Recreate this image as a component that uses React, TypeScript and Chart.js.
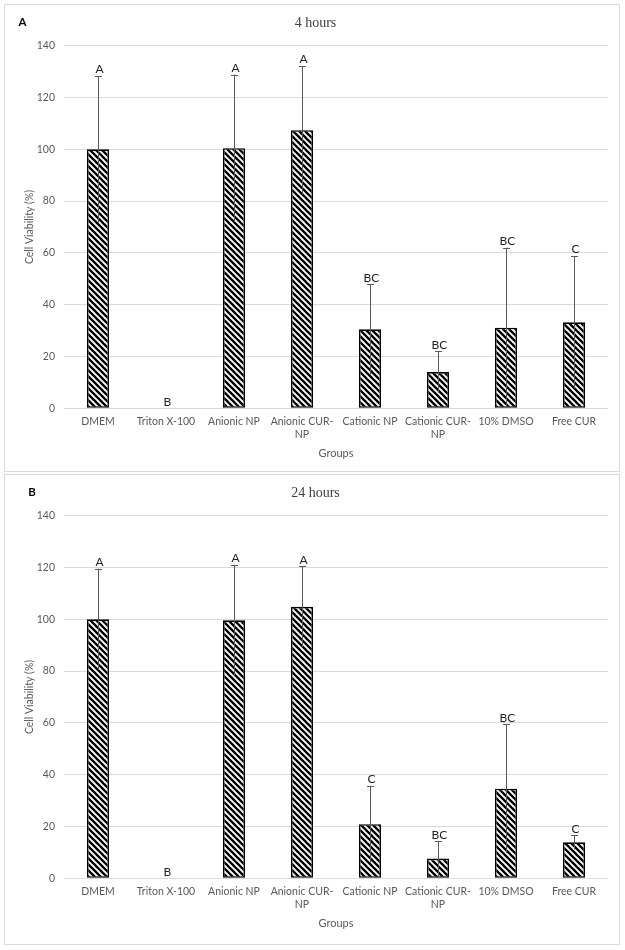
import React, { useEffect, useRef } from 'react';
import { Chart, registerables } from 'chart.js';

Chart.register(...registerables);

// ---------- data ----------
const groupLabels: (string | string[])[] = [
  'DMEM',
  'Triton X-100',
  'Anionic NP',
  ['Anionic CUR-', 'NP'],
  'Cationic NP',
  ['Cationic CUR-', 'NP'],
  '10% DMSO',
  'Free CUR',
];

const yMin = 0;
const yMax = 140;
const yStep = 20;

const viability4h = [100, 0, 100.4, 107.4, 30.5, 14.0, 31.1, 33.2];
const sd4h = [28.3, 0, 28.4, 24.8, 17.4, 8.0, 30.9, 25.6];
const letters4h = ['A', 'B', 'A', 'A', 'BC', 'BC', 'BC', 'C'];

const viability24h = [100, 0, 99.6, 104.8, 20.9, 7.6, 34.6, 13.9];
const sd24h = [19.6, 0, 21.4, 15.6, 14.8, 6.7, 24.9, 2.7];
const letters24h = ['A', 'B', 'A', 'A', 'C', 'BC', 'BC', 'C'];

// ---------- styles ----------
const FONT = "Lato, 'Liberation Sans', sans-serif";
const SERIF = "'Liberation Serif', 'DejaVu Serif', serif";
const GRID = '#d9d9d9';
const AXIS_TEXT = '#595959';

function createHatch(): CanvasPattern | string {
  const s = 6;
  const c = document.createElement('canvas');
  c.width = s;
  c.height = s;
  const g = c.getContext('2d');
  if (!g) return '#ffffff';
  g.fillStyle = '#ffffff';
  g.fillRect(0, 0, s, s);
  g.strokeStyle = '#000000';
  g.lineWidth = 2.3;
  g.beginPath();
  for (const x0 of [-s, 0, s]) {
    g.moveTo(x0 - 1, -1);
    g.lineTo(x0 + s + 1, s + 1);
  }
  g.stroke();
  return g.createPattern(c, 'repeat') ?? '#ffffff';
}

const annotatePlugin = {
  id: 'errAndLetters',
  afterDatasetsDraw(chart: any, _args: any, opts: any) {
    const { ctx } = chart;
    const meta = chart.getDatasetMeta(0);
    const yScale = chart.scales.y;
    const vals = chart.data.datasets[0].data as number[];
    const errs: number[] = opts.errors || [];
    const letters: string[] = opts.letters || [];
    ctx.save();
    meta.data.forEach((bar: any, i: number) => {
      const v = vals[i];
      const e = errs[i] || 0;
      const px = Math.round(bar.x) + 0.5;
      const yTop = yScale.getPixelForValue(v + e);
      const yBot = yScale.getPixelForValue(Math.max(0, v - e));
      if (e > 0) {
        ctx.strokeStyle = '#595959';
        ctx.lineWidth = 1;
        ctx.beginPath();
        ctx.moveTo(px, yTop);
        ctx.lineTo(px, yBot);
        ctx.moveTo(px - 3.5, Math.round(yTop) + 0.5);
        ctx.lineTo(px + 3.5, Math.round(yTop) + 0.5);
        ctx.stroke();
      }
      ctx.fillStyle = '#1f1f1f';
      ctx.font = `12px ${FONT}`;
      ctx.textAlign = 'center';
      ctx.textBaseline = 'middle';
      ctx.fillText(letters[i] ?? '', bar.x + 1.5, yTop - 6.5);
    });
    ctx.restore();
  },
  afterDraw(chart: any, _args: any, opts: any) {
    const { ctx } = chart;
    ctx.save();
    ctx.fillStyle = '#000000';
    ctx.font = `bold 11.5px ${FONT}`;
    ctx.textAlign = 'center';
    ctx.textBaseline = 'middle';
    ctx.fillText(opts.panelLabel, opts.panelX, opts.panelY);
    ctx.restore();
  },
};

type PanelProps = {
  top: number;
  title: string;
  panelLabel: string;
  panelX: number;
  values: number[];
  errors: number[];
  letters: string[];
};

function Panel({ top, title, panelLabel, panelX, values, errors, letters }: PanelProps) {
  const ref = useRef<HTMLCanvasElement | null>(null);

  useEffect(() => {
    if (!ref.current) return;
    const hatch = createHatch();
    const chart = new Chart(ref.current, {
      type: 'bar',
      data: {
        labels: groupLabels,
        datasets: [
          {
            data: values,
            backgroundColor: hatch as any,
            borderColor: '#000000',
            borderWidth: 1.6,
            borderSkipped: false,
            barPercentage: 0.9,
            categoryPercentage: 0.36,
          },
        ],
      },
      options: {
        responsive: false,
        animation: false,
        devicePixelRatio: 1,
        events: [],
        layout: { padding: { left: 23, right: 17, top: 0, bottom: 8 } },
        plugins: {
          legend: { display: false },
          tooltip: { enabled: false },
          title: {
            display: true,
            text: title,
            color: '#404040',
            font: { family: SERIF, size: 14, weight: 'normal' },
            padding: { top: 14.6, bottom: 14.3 },
          },
          errAndLetters: { errors, letters, panelLabel, panelX, panelY: 22.5 },
        } as any,
        scales: {
          x: {
            grid: { display: false, drawTicks: false },
            border: { display: false },
            ticks: {
              color: AXIS_TEXT,
              font: { family: FONT, size: 10.5 },
              padding: 7.4,
              autoSkip: false,
              maxRotation: 0,
              minRotation: 0,
            },
            title: {
              display: true,
              text: 'Groups',
              color: AXIS_TEXT,
              font: { family: FONT, size: 11 },
              padding: { top: 0, bottom: 4.4 },
            },
            afterFit: (s: any) => {
              s.height = 55.7;
            },
          },
          y: {
            min: yMin,
            max: yMax,
            ticks: {
              stepSize: yStep,
              color: AXIS_TEXT,
              font: { family: FONT, size: 10.5 },
              padding: 9,
            },
            grid: { color: GRID, lineWidth: 1, drawTicks: false },
            border: { display: false },
            title: {
              display: true,
              text: 'Cell Viability (%)',
              color: AXIS_TEXT,
              font: { family: FONT, size: 10.5 },
              padding: { top: 0, bottom: 0 },
            },
            afterFit: (s: any) => {
              s.width = 41;
            },
          },
        },
      },
      plugins: [annotatePlugin as any],
    });
    return () => chart.destroy();
  }, [title, panelLabel, panelX, values, errors, letters]);

  return (
    <canvas
      ref={ref}
      width={625}
      height={472}
      style={{ position: 'absolute', left: 0, top, width: 625, height: 472 }}
    />
  );
}

export default function App() {
  return (
    <div
      style={{
        position: 'absolute',
        left: 0,
        top: 0,
        width: 625,
        height: 950,
        background: '#ffffff',
      }}
    >
      <div
        style={{
          position: 'absolute',
          left: 4,
          top: 4,
          width: 614,
          height: 466,
          border: `1px solid ${GRID}`,
        }}
      />
      <div
        style={{
          position: 'absolute',
          left: 4,
          top: 474,
          width: 614,
          height: 469,
          border: `1px solid ${GRID}`,
        }}
      />
      <Panel
        top={0}
        title="4 hours"
        panelLabel="A"
        panelX={22.5}
        values={viability4h}
        errors={sd4h}
        letters={letters4h}
      />
      <Panel
        top={470}
        title="24 hours"
        panelLabel="B"
        panelX={32}
        values={viability24h}
        errors={sd24h}
        letters={letters24h}
      />
    </div>
  );
}
